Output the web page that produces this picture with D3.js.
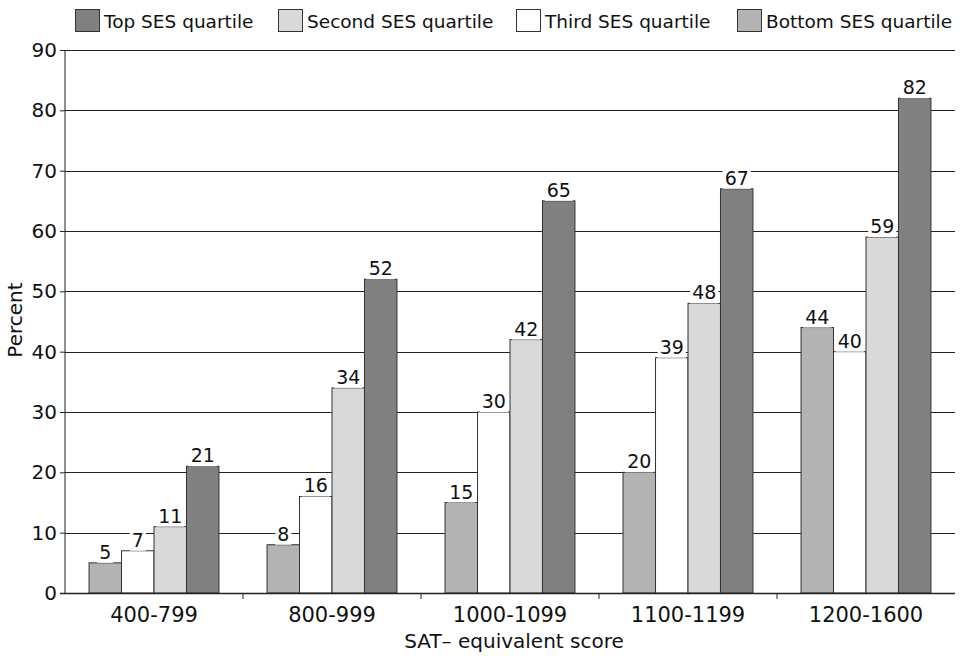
<!DOCTYPE html>
<html><head><meta charset="utf-8">
<script src="https://cdn.jsdelivr.net/npm/d3@7"></script>
<style>body{margin:0;background:#fff}svg{display:block}text{font-family:"DejaVu Sans",sans-serif;fill:#111}</style>
</head><body><svg id="c" width="964" height="656"></svg>
<script>
const categories = ["400-799","800-999","1000-1099","1100-1199","1200-1600"];
const seriesNames = ["Bottom SES quartile","Third SES quartile","Second SES quartile","Top SES quartile"];
const bottomVals = [5, 8, 15, 20, 44];
const thirdVals = [7, 16, 30, 39, 40];
const secondVals = [11, 34, 42, 48, 59];
const topVals = [21, 52, 65, 67, 82];
const seriesColors = ["#b3b3b3","#ffffff","#d9d9d9","#808080"];
const legendOrder = ["Top SES quartile","Second SES quartile","Third SES quartile","Bottom SES quartile"];
const yTicks = [0,10,20,30,40,50,60,70,80,90];

const seriesVals = [bottomVals, thirdVals, secondVals, topVals];
const svg = d3.select("#c");
const L = 65, R = 955, T = 50, B = 593;
const x = d3.scaleBand().domain(categories).range([L, R]).paddingInner(0).paddingOuter(0);
const xs = d3.scaleBand().domain(seriesNames).range([0, x.bandwidth()]).paddingInner(0).paddingOuter(0.74);
const y = d3.scaleLinear().domain([0, 90]).range([B, T]);
const ff = '"DejaVu Sans",sans-serif';

// gridlines
svg.append("g").selectAll("line").data(yTicks.filter(d => d > 0)).join("line")
  .attr("x1", L).attr("x2", R).attr("y1", d => Math.round(y(d)) + 0.5).attr("y2", d => Math.round(y(d)) + 0.5)
  .attr("stroke", "#222").attr("stroke-width", 1);

// bars
const g = svg.append("g");
seriesNames.forEach((s, si) => {
  g.selectAll(null).data(categories).join("rect")
    .attr("x", c => x(c) + xs(s)).attr("width", xs.bandwidth())
    .attr("y", (c, i) => y(seriesVals[si][i])).attr("height", (c, i) => B - y(seriesVals[si][i]))
    .attr("fill", seriesColors[si]).attr("stroke", "#333").attr("stroke-width", 1);
});

// value labels
seriesNames.forEach((s, si) => {
  categories.forEach((c, i) => {
    const v = seriesVals[si][i];
    const cx = x(c) + xs(s) + xs.bandwidth() / 2;
    const by = y(v) - 4;
    const t = svg.append("text").attr("x", cx).attr("y", by).attr("text-anchor", "middle")
      .attr("font-size", 19).text(v);
    const bb = t.node().getBBox();
    svg.insert("rect", () => t.node()).attr("x", bb.x - 2).attr("y", bb.y + 2).attr("width", bb.width + 4)
      .attr("height", bb.height - 2).attr("fill", "#fff");
  });
});

// axes
const yAxis = d3.axisLeft(y).tickValues(yTicks).tickSize(5).tickPadding(3);
const ya = svg.append("g").attr("transform", `translate(${L},0)`).call(yAxis);
ya.selectAll("text").attr("font-size", 20).style("font-family", ff).attr("fill", "#111");
ya.selectAll("line").attr("stroke", "#222");
ya.select(".domain").attr("stroke", "#222").attr("d", `M0,${T}V${B}`);

const xa = svg.append("g").attr("transform", `translate(0,${B})`);
xa.append("line").attr("x1", L - 5).attr("x2", R).attr("y1", 0.5).attr("y2", 0.5).attr("stroke", "#222").attr("stroke-width", 1.5);
xa.selectAll("line.tk").data(categories.slice(1)).join("line").attr("class", "tk")
  .attr("x1", c => x(c)).attr("x2", c => x(c)).attr("y1", 0).attr("y2", 6).attr("stroke", "#222");
xa.selectAll("text").data(categories).join("text")
  .attr("x", c => x(c) + x.bandwidth() / 2).attr("y", 29).attr("text-anchor", "middle")
  .attr("font-size", 21).text(c => c);

// axis titles
svg.append("text").attr("x", 514).attr("y", 648).attr("text-anchor", "middle").attr("font-size", 20).text("SAT– equivalent score");
svg.append("text").attr("transform", "translate(22,320) rotate(-90)").attr("text-anchor", "middle").attr("font-size", 20).text("Percent");

// legend
const legX = [75, 278, 516, 737];
const lg = svg.append("g");
legendOrder.forEach((name, i) => {
  const si = seriesNames.indexOf(name);
  lg.append("rect").attr("x", legX[i] + 0.5).attr("y", 9.5).attr("width", 24).attr("height", 22)
    .attr("fill", seriesColors[si]).attr("stroke", "#333");
  lg.append("text").attr("x", legX[i] + 29).attr("y", 28).attr("font-size", 18.5).text(name);
});
</script></body></html>
